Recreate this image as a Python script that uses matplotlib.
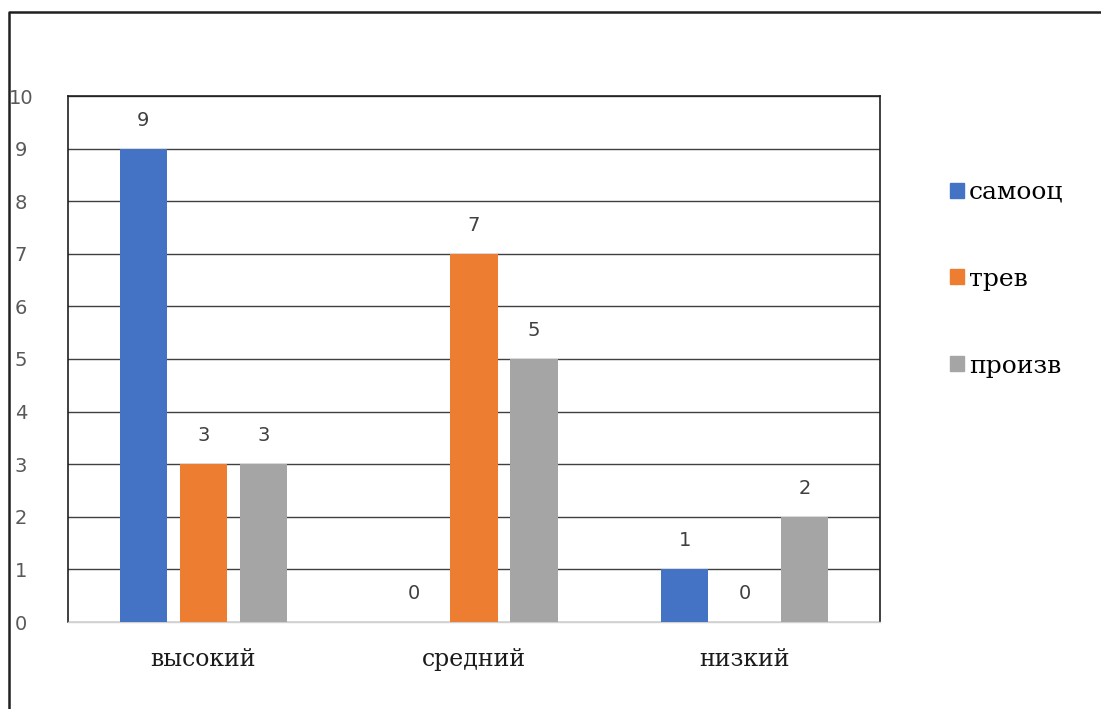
import matplotlib.pyplot as plt
import numpy as np
from matplotlib.patches import Rectangle
from matplotlib.lines import Line2D

# Data
categories = ['высокий', 'средний', 'низкий']
series_names = ['самооц', 'трев', 'произв']
samoots = [9, 0, 1]
trev = [3, 7, 0]
proizv = [3, 5, 2]
yticks = list(range(0, 11))

colors = ['#4472C4', '#ED7D31', '#A5A5A5']
values = [samoots, trev, proizv]

fig = plt.figure(figsize=(11.01, 7.09), dpi=100)
ax = fig.add_axes([68 / 1101, 1 - 622 / 709, (880 - 68) / 1101, (622 - 96) / 709])

x = np.arange(len(categories))
width = 0.175
offset = 0.222
for i, (vals, name, c) in enumerate(zip(values, series_names, colors)):
    ax.bar(x + (i - 1) * offset, vals, width, color=c, label=name, zorder=3)
    for xi, v in zip(x + (i - 1) * offset, vals):
        ax.text(xi, v + 0.36, str(v), ha='center', va='bottom', fontsize=14,
                color='#404040')

ax.set_xlim(-0.5, 2.5)
ax.set_ylim(0, 10)
ax.set_yticks(yticks)
ax.set_yticklabels([str(t) for t in yticks], fontsize=14, color='#595959', ha='center')
ax.tick_params(axis='y', length=0, pad=34)
ax.tick_params(axis='x', length=0, pad=19)
ax.set_xticks(x)
ax.set_xticklabels(categories, fontsize=17, family='DejaVu Serif', color='#1a1a1a')

ax.grid(axis='y', color='#404040', linewidth=1, zorder=0)
for s in ['left', 'right', 'top']:
    ax.spines[s].set_color('#202020')
    ax.spines[s].set_linewidth(1.2)
ax.spines['bottom'].set_color('#d0d0d0')
ax.spines['bottom'].set_linewidth(1)

handles = [Rectangle((0, 0), 1, 1, color=c) for c in colors]
fig.legend(handles, series_names, loc='upper left', bbox_to_anchor=(940 / 1101, 1 - 171 / 709),
           frameon=False, prop={'family': 'DejaVu Serif', 'size': 18},
           handlelength=0.55, handleheight=0.55, handletextpad=0.2, labelspacing=2.55,
           borderaxespad=0)

# outer frame: only left and top edges are visible
fx = 8.5 / 1101
fy = 1 - 11.5 / 709
fig.lines.append(Line2D([fx, fx, 1], [0, fy, fy], transform=fig.transFigure,
                        color='#202020', linewidth=1.8))

fig.savefig('out.png', dpi=100)
